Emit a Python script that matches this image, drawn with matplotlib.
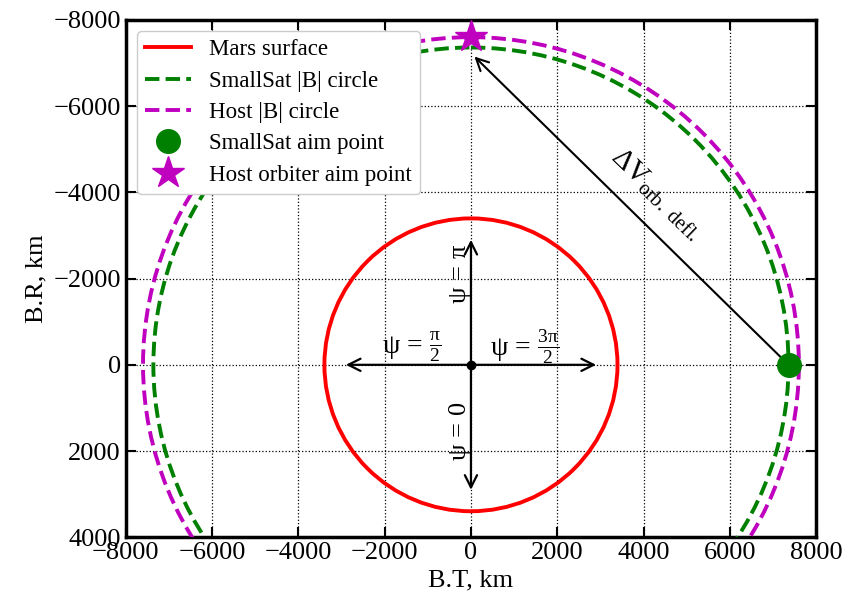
import matplotlib
matplotlib.use('Agg')
import matplotlib.pyplot as plt
from matplotlib.patches import Circle

plt.rcParams['font.family'] = ['Liberation Serif', 'DejaVu Serif']
plt.rcParams['mathtext.fontset'] = 'stix'
plt.rcParams['mathtext.default'] = 'regular'

# radii of the circles in the B-plane, km
r_mars = 3396.0
r_smallsat = 7360.0
r_host = 7600.0

# aim points (B.T, B.R), km
smallsat_aim = (7360.0, 0.0)
host_aim = (0.0, -7600.0)

# psi direction arrows, half length in km
psi_len = 2900.0

xticks = [-8000, -6000, -4000, -2000, 0, 2000, 4000, 6000, 8000]
yticks = [-8000, -6000, -4000, -2000, 0, 2000, 4000]

fig = plt.figure(figsize=(8.44, 6.03), dpi=100)
ax = fig.add_axes([0.149, 0.109, 0.818, 0.858])

ax.add_patch(Circle((0, 0), r_mars, fill=False, color='red', lw=2.8, zorder=3))
ax.add_patch(Circle((0, 0), r_smallsat, fill=False, color='green', lw=2.8, ls='--', zorder=3))
ax.add_patch(Circle((0, 0), r_host, fill=False, color='m', lw=2.8, ls='--', zorder=3))

# proxies for the legend
ax.plot([], [], color='red', lw=2.8, label='Mars surface')
ax.plot([], [], color='green', lw=2.8, ls='--', label='SmallSat |B| circle')
ax.plot([], [], color='m', lw=2.8, ls='--', label='Host |B| circle')
ax.plot(*smallsat_aim, 'o', color='green', ms=17, ls='none', label='SmallSat aim point', zorder=5)
ax.plot(*host_aim, '*', color='m', ms=24, ls='none', label='Host orbiter aim point', zorder=5)

# orbiter deflection maneuver
ax.annotate('', xy=(80, -7150), xytext=smallsat_aim,
            arrowprops=dict(arrowstyle='->', lw=1.5, color='k', mutation_scale=22,
                            shrinkA=0, shrinkB=0), zorder=4)
ax.text(4300, -3950, r'$\Delta V_{orb.\ defl.}$', fontsize=21, rotation=-44,
        ha='center', va='center')

# psi reference directions
ax.annotate('', xy=(-psi_len, 0), xytext=(psi_len, 0),
            arrowprops=dict(arrowstyle='<->', lw=1.6, color='k', mutation_scale=22,
                            shrinkA=0, shrinkB=0))
ax.annotate('', xy=(0, -psi_len), xytext=(0, psi_len),
            arrowprops=dict(arrowstyle='<->', lw=1.6, color='k', mutation_scale=22,
                            shrinkA=0, shrinkB=0))
ax.plot(0, 0, 'ko', ms=6)
ax.text(-250, -2100, r'$\psi\,=\,\pi$', fontsize=19, rotation=90, ha='center', va='center')
ax.text(-250, 1550, r'$\psi\,=\,0$', fontsize=19, rotation=90, ha='center', va='center')
ax.text(-1370, -420, r'$\psi\,=\,\frac{\pi}{2}$', fontsize=20, ha='center', va='center')
ax.text(1250, -420, r'$\psi\,=\,\frac{3\pi}{2}$', fontsize=20, ha='center', va='center')

ax.set_xlim(-8000, 8000)
ax.set_ylim(4000, -8000)
ax.set_xticks(xticks)
ax.set_yticks(yticks)
ax.grid(True, ls=':', color='k', lw=0.9)
ax.tick_params(direction='in', top=True, right=True, length=7, width=1.5, labelsize=19)
for s in ax.spines.values():
    s.set_linewidth(2.5)
ax.set_xlabel('B.T, km', fontsize=19)
ax.set_ylabel('B.R, km', fontsize=19)

ax.legend(loc='upper left', fontsize=16.5, handlelength=2.0, borderpad=0.35,
          labelspacing=0.45, handletextpad=0.8, framealpha=1.0)

fig.savefig('out.png', dpi=100)
